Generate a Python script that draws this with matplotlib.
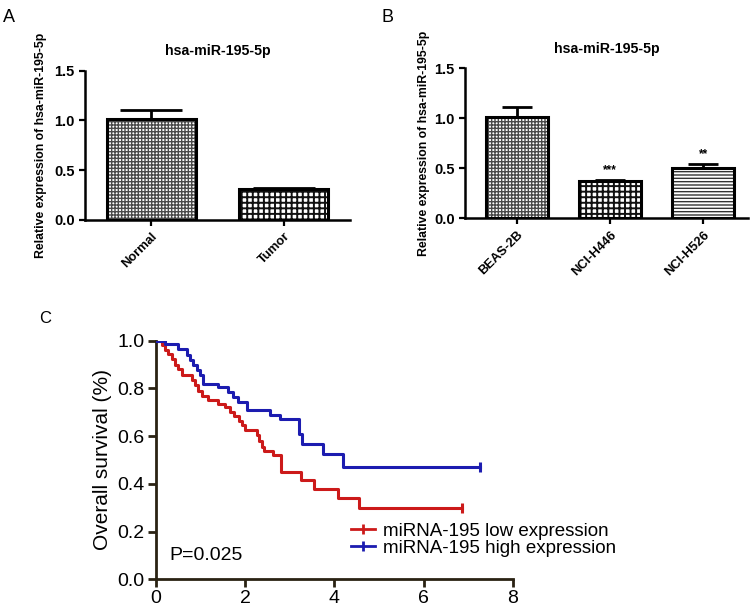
import matplotlib
matplotlib.use("Agg")
import matplotlib.pyplot as plt
from matplotlib.lines import Line2D

plt.rcParams['font.family'] = ['Liberation Sans', 'DejaVu Sans']

# panel A data
groups_a = ["Normal", "Tumor"]
vals_a = [1.01, 0.31]
err_a = [0.09, 0.01]

# panel B data
groups_b = ["BEAS-2B", "NCI-H446", "NCI-H526"]
vals_b = [1.01, 0.37, 0.50]
err_b = [0.10, 0.01, 0.045]
stars_b = ["", "***", "**"]

# panel C data (Kaplan-Meier steps)
low_t = [0, 0.13, 0.2, 0.27, 0.35, 0.43, 0.5, 0.58, 0.8, 0.87, 0.95, 1.02, 1.17, 1.4, 1.55,
         1.65, 1.75, 1.85, 1.92, 2.0, 2.26, 2.31, 2.37, 2.41, 2.63, 2.8, 3.25, 3.53, 4.07, 4.56, 6.85]
low_s = [1.0, 0.98, 0.96, 0.945, 0.925, 0.90, 0.88, 0.855, 0.835, 0.815, 0.79, 0.77, 0.75, 0.735, 0.72,
         0.70, 0.685, 0.665, 0.645, 0.626, 0.605, 0.58, 0.555, 0.538, 0.521, 0.451, 0.416, 0.377, 0.34, 0.30, 0.30]
high_t = [0, 0.2, 0.49, 0.7, 0.77, 0.84, 0.91, 0.98, 1.05, 1.39, 1.61, 1.73, 1.84, 2.03,
          2.55, 2.77, 3.2, 3.27, 3.74, 4.2, 7.26]
high_s = [1.0, 0.985, 0.966, 0.94, 0.92, 0.90, 0.877, 0.856, 0.82, 0.805, 0.786, 0.765, 0.744, 0.709,
          0.69, 0.67, 0.61, 0.565, 0.525, 0.47, 0.47]

# hatch styles: (pattern, colour, hatch linewidth)
fine_check = ('+++++', '#4a4a4a', 1.0)
coarse_check = ('+++', '#111111', 1.4)
hlines = ('-----', '#333333', 1.0)

fig = plt.figure(figsize=(7.51, 6.09), dpi=100)


def bar_panel(ax, names, vals, errs, styles, xlim, cap):
    for i, (v, e, st) in enumerate(zip(vals, errs, styles)):
        h, hc, hlw = st
        plt.rcParams['hatch.linewidth'] = hlw
        b = ax.bar(i, v, width=0.67, color='white', edgecolor=hc, linewidth=0, hatch=h, zorder=2)
        for p in b:
            if hasattr(p, 'set_hatch_linewidth'):
                p.set_hatch_linewidth(hlw)
        ax.bar(i, v, width=0.67, fill=False, edgecolor='black', linewidth=2.2, zorder=3)
        ax.errorbar(i, v, yerr=[[0], [e]], fmt='none', ecolor='black', elinewidth=2, capsize=cap,
                    capthick=2, zorder=3)
    ax.set_xlim(*xlim)
    ax.set_ylim(0, 1.5)
    ax.set_yticks([0.0, 0.5, 1.0, 1.5])
    ax.set_yticklabels(["0.0", "0.5", "1.0", "1.5"], fontweight='bold', fontsize=10.5)
    ax.set_xticks(range(len(names)))
    ax.set_xticklabels(names, rotation=45, ha='right', rotation_mode='anchor', fontweight='bold', fontsize=9.3)
    ax.spines['top'].set_visible(False)
    ax.spines['right'].set_visible(False)
    ax.spines['left'].set_linewidth(1.8)
    ax.spines['bottom'].set_linewidth(1.8)
    ax.tick_params(width=1.6, length=4)
    ax.set_title("hsa-miR-195-5p", fontweight='bold', fontsize=10.2, pad=11)
    ax.set_ylabel("Relative expression of hsa-miR-195-5p", fontweight='bold', fontsize=8.8)


axA = fig.add_axes([0.1132, 0.6388, 0.3529, 0.2452])
bar_panel(axA, groups_a, vals_a, err_a, [fine_check, coarse_check], (-0.5, 1.5), 22)
axA.yaxis.set_label_coords(-0.145, 0.5)

axB = fig.add_axes([0.6192, 0.6415, 0.3768, 0.2463])
bar_panel(axB, groups_b, vals_b, err_b, [fine_check, coarse_check, hlines], (-0.56, 2.48), 11)
axB.yaxis.set_label_coords(-0.125, 0.5)
for i, s in enumerate(stars_b):
    if s:
        axB.text(i, vals_b[i] + err_b[i] + 0.1, s, ha='center', va='center', fontsize=8.5, fontweight='bold')

fig.text(0.004, 0.985, "A", fontsize=13, va='top')
fig.text(0.508, 0.985, "B", fontsize=13, va='top')
fig.text(0.052, 0.49, "C", fontsize=12, va='top')

# panel C
axC = fig.add_axes([0.2077, 0.0488, 0.4754, 0.3918])
red = '#cc1a1a'
blue = '#1c1cb0'
axc_col = '#2a2213'
axC.step(low_t, low_s, where='post', color=red, lw=2.2, zorder=3)
axC.step(high_t, high_s, where='post', color=blue, lw=2.2, zorder=3)
axC.plot(low_t[-1], low_s[-1], marker='|', color=red, ms=7, mew=2.2, zorder=3)
axC.plot(high_t[-1], high_s[-1], marker='|', color=blue, ms=7, mew=2.2, zorder=3)
axC.set_xlim(0, 8)
axC.set_ylim(0, 1.0)
axC.set_xticks([0, 2, 4, 6, 8])
axC.set_yticks([0.0, 0.2, 0.4, 0.6, 0.8, 1.0])
axC.set_yticklabels(["0.0", "0.2", "0.4", "0.6", "0.8", "1.0"])
axC.tick_params(labelsize=14, width=2, length=6, color=axc_col, pad=2)
axC.spines['top'].set_visible(False)
axC.spines['right'].set_visible(False)
for sp in ['left', 'bottom']:
    axC.spines[sp].set_linewidth(2)
    axC.spines[sp].set_color(axc_col)
axC.set_ylabel("Overall survival (%)", fontsize=15, labelpad=4)
axC.text(0.3, 0.1, "P=0.025", fontsize=14, va='center')
handles = [Line2D([], [], color=red, lw=2, marker='|', ms=7, mew=2),
           Line2D([], [], color=blue, lw=2, marker='|', ms=7, mew=2)]
axC.legend(handles, ["miRNA-195 low expression", "miRNA-195 high expression"], loc='lower left',
           bbox_to_anchor=(0.52, 0.055), frameon=False, fontsize=13.5, numpoints=1, handlelength=1.3,
           handletextpad=0.4, labelspacing=0.0, borderpad=0)

fig.savefig("out.png", dpi=100)
